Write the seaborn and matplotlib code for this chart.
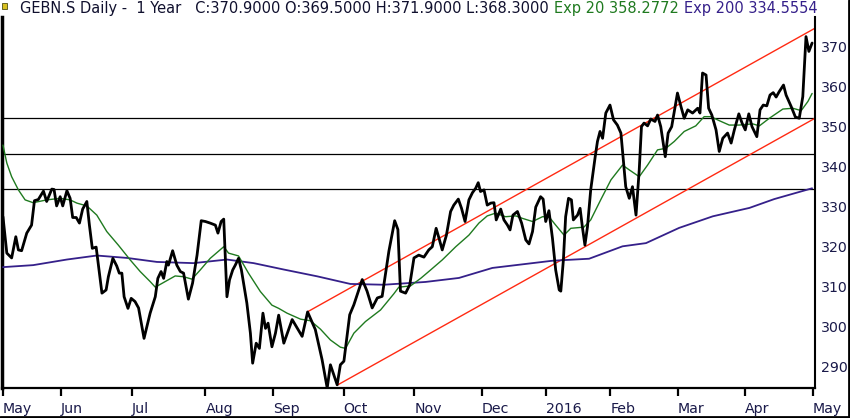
import pandas as pd
import seaborn as sns
import matplotlib.pyplot as plt
from matplotlib.lines import Line2D
from matplotlib.patches import Rectangle

# trading-day index (0 = start of May 2015) and values
close_day = [0, 1.2, 2.7, 4.0, 4.8, 5.8, 7.4, 8.9, 9.8, 11.0, 12.6, 13.6, 15.2, 15.9, 16.7, 17.8,
             18.6, 19.9, 20.9, 21.7, 22.8, 23.8, 24.8, 26.1, 26.9, 27.8, 29.0, 30.8, 32.1, 32.8,
             34.2, 35.4, 36.2, 37.0, 37.7, 38.9, 39.9, 41.1, 42.2, 43.9, 45.8, 47.4, 48.2, 49.2,
             50.0, 51.0, 51.5, 52.8, 54.1, 55.2, 56.2, 57.7, 59.0, 60.4, 61.7, 63.0, 64.5, 66.1,
             66.9, 67.9, 68.7, 69.7, 70.5, 71.5, 72.3, 73.3, 74.2, 75.9, 77.0, 77.7, 78.8, 79.8,
             80.9, 81.7, 82.5, 83.7, 84.8, 85.8, 87.4, 90.0, 93.1, 94.8, 97.2, 99.3, 100.9, 101.9,
             104.0, 105.0, 106.1, 107.9, 109.2, 111.8, 113.3, 114.9, 116.5, 118.0, 120.1, 121.9,
             122.9, 123.7, 125.3, 126.6, 127.9, 129.4, 131.0, 132.5, 133.6, 134.8, 135.7, 136.7,
             138.0, 139.3, 140.3, 141.7, 142.7, 143.8, 145.0, 146.1, 147.1, 147.9, 148.6, 149.7,
             150.7, 151.8, 152.8, 153.5, 154.9, 155.9, 157.0, 157.8, 158.7, 160.1, 161.4, 162.7,
             163.7, 164.8, 165.8, 167.3, 168.1, 168.9, 169.9, 171.0, 172.0, 173.1, 173.6, 174.4,
             175.1, 176.0, 176.9, 177.5, 178.8, 179.6, 180.3, 181.1, 181.9, 182.9, 184.3, 185.0,
             185.8, 186.6, 187.6, 188.9, 190.0, 191.2, 192.3, 193.1, 193.8, 194.9, 195.9, 197.0,
             198.0, 198.7, 199.5, 200.6, 201.6, 202.9, 203.7, 204.7, 206.1, 207.0, 208.1, 209.1,
             209.9, 211.0, 212.0, 213.1, 214.6, 216.2, 216.9, 217.7, 218.8, 219.6, 220.6, 221.9,
             222.9, 224.0, 225.5, 226.6, 227.6, 229.0, 230.0, 231.0, 232.1, 233.1, 234.6, 235.6,
             236.6, 237.7, 238.7, 239.7, 240.6, 241.6, 242.9, 243.7, 245.3, 246.6, 247.8, 248.9,
             249.9, 250.8, 251.8]
close = [327.5, 318.4, 317.2, 322.5, 319.2, 319.0, 323.4, 325.4, 331.5, 331.8, 333.9, 331.3, 334.4,
         334.3, 330.2, 332.5, 330.2, 334.0, 332.1, 327.3, 327.3, 325.9, 329.4, 331.3, 325.4, 319.6,
         319.9, 308.4, 309.2, 312.5, 317.1, 315.2, 313.4, 313.4, 307.5, 304.6, 307.1, 306.3, 304.7,
         297.1, 303.4, 307.5, 312.1, 313.8, 312.1, 316.3, 315.4, 319.0, 315.4, 313.8, 313.4, 306.9,
         310.9, 317.9, 326.5, 326.3, 325.9, 325.4, 323.4, 326.3, 326.9, 307.5, 311.7, 314.2, 315.4,
         317.1, 314.2, 305.9, 298.4, 290.9, 295.9, 294.6, 303.4, 299.6, 300.9, 295.0, 298.4, 302.9,
         295.9, 301.8, 297.6, 303.7, 299.3, 291.8, 284.7, 290.5, 285.5, 290.5, 291.4, 303.0, 305.5,
         311.8, 308.9, 304.7, 307.2, 307.6, 318.9, 326.5, 324.3, 308.9, 308.4, 310.5, 317.2, 317.9,
         317.4, 319.2, 320.0, 324.6, 322.1, 319.2, 322.9, 328.8, 330.4, 331.9, 329.6, 326.3, 331.7,
         333.5, 334.6, 336.0, 333.8, 334.2, 330.4, 330.9, 331.0, 326.7, 329.4, 326.7, 325.4, 324.2,
         327.9, 328.8, 325.9, 321.7, 320.7, 323.8, 329.9, 332.5, 331.9, 326.3, 329.0, 322.1, 314.2,
         309.2, 308.9, 316.7, 327.5, 332.1, 331.7, 326.7, 327.9, 329.6, 325.0, 320.4, 325.0, 334.2,
         342.5, 346.3, 348.8, 347.1, 353.4, 355.4, 351.7, 350.4, 348.4, 341.3, 335.0, 332.1, 335.0,
         327.9, 339.2, 350.0, 350.9, 350.2, 351.9, 351.3, 352.9, 350.0, 342.5, 348.4, 350.0, 354.6,
         358.4, 355.0, 352.1, 354.2, 353.4, 354.6, 353.4, 363.4, 362.9, 354.6, 352.9, 349.2, 343.8,
         347.1, 348.4, 345.9, 349.2, 353.2, 350.9, 349.2, 353.2, 350.0, 347.5, 354.2, 355.4, 355.2,
         357.9, 358.5, 357.4, 358.8, 360.4, 357.9, 355.0, 352.4, 352.1, 357.5, 372.5, 368.8, 370.9]

ema20_day = [0, 1.2, 2.7, 4.8, 6.9, 9.4, 13.6, 17.8, 20.9, 23.0, 26.1, 29.2, 32.3, 35.9, 39.6,
             42.7, 45.8, 47.4, 50.5, 53.6, 56.2, 58.8, 61.4, 64.5, 68.7, 70.2, 73.3, 76.4, 80.1,
             83.7, 85.8, 88.4, 92.6, 95.7, 98.8, 101.9, 105.0, 106.6, 109.2, 112.8, 117.5, 121.6,
             123.2, 126.8, 130.0, 132.5, 136.7, 140.9, 145.0, 148.1, 150.7, 153.3, 156.4, 159.6,
             161.6, 164.8, 167.9, 169.9, 172.0, 174.6, 176.7, 180.8, 182.9, 186.0, 189.2, 192.8,
             194.9, 198.0, 200.6, 203.7, 206.3, 208.9, 212.0, 215.6, 218.2, 220.3, 222.9, 226.0,
             229.1, 233.3, 235.4, 238.5, 242.7, 245.8, 248.4, 250.5, 251.8]
ema20 = [345.4, 340.9, 337.5, 334.2, 331.7, 331.0, 331.7, 332.1, 331.7, 330.9, 330.2, 327.9, 323.8,
         320.4, 316.7, 313.8, 311.3, 309.9, 311.3, 312.7, 312.5, 311.9, 314.2, 317.1, 320.0, 318.4,
         317.7, 313.4, 308.8, 305.4, 304.6, 303.4, 301.9, 301.5, 299.4, 296.7, 294.9, 294.6, 298.4,
         301.3, 304.2, 308.2, 309.9, 310.2, 312.1, 313.8, 316.7, 320.0, 322.9, 325.9, 327.7, 328.4,
         327.5, 327.7, 327.1, 326.3, 327.5, 327.5, 325.4, 322.9, 324.6, 324.9, 326.7, 331.7, 336.7,
         340.4, 339.2, 337.5, 340.4, 344.2, 344.6, 346.3, 348.8, 350.2, 352.5, 352.5, 351.5, 350.4,
         350.4, 350.7, 350.2, 352.1, 354.4, 354.6, 354.0, 356.3, 358.3]

ema200_day = [0, 9.4, 19.9, 29.2, 38.6, 47.9, 59.3, 69.7, 78.0, 87.4, 97.8, 108.1, 118.5, 131.5,
              141.9, 152.3, 162.7, 171.0, 182.4, 192.8, 200.1, 210.4, 220.9, 232.3, 240.0, 251.8]
ema200 = [314.9, 315.4, 316.8, 317.8, 317.2, 316.2, 315.9, 316.8, 315.9, 314.3, 312.6, 310.7, 310.5,
          311.2, 312.2, 314.7, 315.7, 316.5, 317.0, 320.1, 320.9, 324.7, 327.6, 329.7, 331.9, 334.6]

# horizontal levels and trend channel
levels = [352.1, 343.2, 334.3]
upper_day = [94.8, 252.7]
upper_val = [303.75, 374.6]
lower_day = [104.0, 252.7]
lower_val = [285.4, 352.1]

month_pos = [0, 18, 40, 63, 84, 106, 128, 149, 169, 189, 210, 231, 252]
month_lab = ['May', 'Jun', 'Jul', 'Aug', 'Sep', 'Oct', 'Nov', 'Dec', '2016', 'Feb', 'Mar', 'Apr', 'May']
price_ticks = [290, 300, 310, 320, 330, 340, 350, 360, 370]

sns.set_style('white')
plt.rcParams['font.family'] = ['DejaVu Sans']

navy = '#1a1a4a'
green = '#1f7a1f'
purple = '#35208a'
red = '#ff2a12'

fig = plt.figure(figsize=(8.5, 4.18), dpi=100)
ax = fig.add_axes([2 / 850, 30 / 418, 813 / 850, 371 / 418])

for lv in levels:
    ax.axhline(lv, color='black', lw=0.9, zorder=1)

sns.lineplot(x=upper_day, y=upper_val, color=red, lw=1.0, ax=ax, zorder=2)
sns.lineplot(x=lower_day, y=lower_val, color=red, lw=1.0, ax=ax, zorder=2)

df_200 = pd.DataFrame({'day': ema200_day, 'val': ema200})
sns.lineplot(data=df_200, x='day', y='val', color=purple, lw=1.3, ax=ax, zorder=3)
df_20 = pd.DataFrame({'day': ema20_day, 'val': ema20})
sns.lineplot(data=df_20, x='day', y='val', color=green, lw=1.0, ax=ax, zorder=4)
df_close = pd.DataFrame({'day': close_day, 'val': close})
sns.lineplot(data=df_close, x='day', y='val', color='black', lw=2.0, ax=ax, zorder=5)

ax.set_xlim(-0.3, 252.7)
ax.set_ylim(284.7, 377.4)
ax.set_xlabel('')
ax.set_ylabel('')

ax.set_xticks(month_pos)
ax.set_xticklabels(month_lab, ha='left', color=navy, fontsize=10.2)
ax.tick_params(axis='x', direction='out', length=6, width=1.6, color='black', pad=4, bottom=True)

ax.yaxis.tick_right()
ax.set_yticks(price_ticks)
ax.set_yticklabels([str(t) for t in price_ticks], color=navy, fontsize=10.2)
ax.tick_params(axis='y', length=0, pad=4)

ax.spines['top'].set_visible(False)
ax.spines['left'].set_linewidth(2.5)
ax.spines['bottom'].set_linewidth(1.6)
ax.spines['right'].set_linewidth(1.5)
for s in ['left', 'bottom', 'right']:
    ax.spines[s].set_color('black')

# header text
fig.text(20 / 850, 1 - 9 / 418,
         'GEBN.S Daily -  1 Year   C:370.9000 O:369.5000 H:371.9000 L:368.3000',
         color='#10102e', fontsize=10.5, va='center', ha='left')
fig.text(554 / 850, 1 - 9 / 418, 'Exp 20 358.2772', color=green, fontsize=10.5, va='center', ha='left')
fig.text(684 / 850, 1 - 9 / 418, 'Exp 200 334.5554', color=purple, fontsize=10.5, va='center', ha='left')
fig.add_artist(Rectangle((2 / 850, 1 - 9 / 418), 5 / 850, 6 / 418, facecolor='#d8c020',
                         edgecolor='#505010', lw=0.6, transform=fig.transFigure))

# outer frame on bottom and right
fig.add_artist(Line2D([0, 1], [1.5 / 418, 1.5 / 418], color='black', lw=2, transform=fig.transFigure))
fig.add_artist(Line2D([848.5 / 850, 848.5 / 850], [0, 1], color='black', lw=2, transform=fig.transFigure))

fig.savefig('out.png', dpi=100)
